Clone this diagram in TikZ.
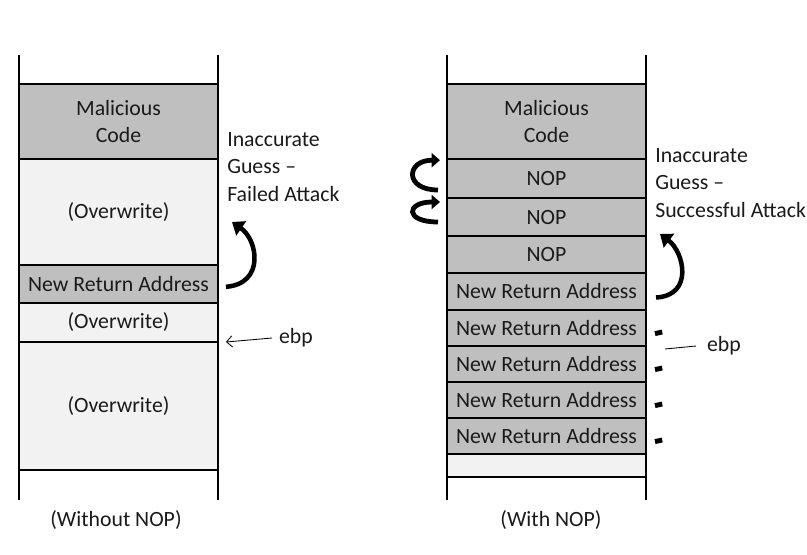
\documentclass[tikz,border=0pt]{standalone}
\usepackage{fontspec}
\setmainfont{Carlito}
\usepackage{xcolor}
\usetikzlibrary{arrows.meta, positioning}

\definecolor{cellgray}{HTML}{BFBFBF}
\definecolor{celllight}{HTML}{F2F2F2}
\definecolor{inkgray}{HTML}{1A1A1A}

\begin{document}
\begin{tikzpicture}[
    every node/.style={font=\fontsize{15.5}{19.5}\selectfont, text=inkgray},
    cell/.style={draw, line width=1.3pt, minimum width=4.975cm, inner sep=0pt, outer sep=0pt, align=center},
    dark/.style={cell, fill=cellgray},
    light/.style={cell, fill=celllight},
    rail/.style={line width=1.1pt},
    swoosh/.style={line width=3.2pt, -{Triangle[length=8pt, width=12pt]}},
    curl/.style={line width=3.4pt, -{Triangle[length=6pt, width=10pt]}}
]
    \useasboundingbox (0,0) rectangle (20.175,-13.85);

    % without NOP
    \node[dark, minimum height=1.875cm, anchor=north] (lmal) at (2.9625,-2.1) {Malicious\\Code};
    \node[light, minimum height=2.65cm, below=0pt of lmal] (lov1) {(Overwrite)};
    \node[dark, minimum height=0.95cm, below=0pt of lov1] (lnra) {New Return Address};
    \node[light, minimum height=0.975cm, below=0pt of lnra] (lov2) {(Overwrite)};
    \node[light, minimum height=3.2cm, below=0pt of lov2] (lov3) {(Overwrite)};
    \draw[rail] ([yshift=0.725cm]lmal.north west) -- ([yshift=-0.75cm]lov3.south west);
    \draw[rail] ([yshift=0.725cm]lmal.north east) -- ([yshift=-0.75cm]lov3.south east);

    \node[anchor=north west, align=left, inner sep=0pt] (lguess) at (5.675,-3.3) {Inaccurate\\Guess --\\Failed Attack};
    \coordinate (lhead) at (5.8,-5.55);
    \draw[swoosh] ([xshift=0.2cm, yshift=-0.07cm]lnra.east)
        .. controls +(0.975,0.075) and +(0.65,-0.45) .. (lhead);

    \node[anchor=west, inner sep=2pt] (lebp) at (6.9,-8.45) {ebp};
    \draw[-{Straight Barb[length=4pt]}, line width=0.6pt] ([xshift=-0.1cm]lebp.west) -- ([xshift=0.2cm]lov3.north east);

    \node at (2.9,-13.0) (lcap) {(Without NOP)};

    % with NOP
    \node[dark, minimum height=1.875cm, anchor=north] (rmal) at (13.6625,-2.1) {Malicious\\Code};
    \node[dark, minimum height=0.975cm, below=0pt of rmal] (rnop1) {NOP};
    \node[dark, minimum height=0.95cm, below=0pt of rnop1] (rnop2) {NOP};
    \node[dark, minimum height=0.925cm, below=0pt of rnop2] (rnop3) {NOP};
    \node[dark, minimum height=0.925cm, below=0pt of rnop3] (rnra1) {New Return Address};
    \foreach \i [evaluate=\i as \j using int(\i-1)] in {2,...,5}
        \node[dark, minimum height=0.9cm, below=0pt of rnra\j] (rnra\i) {New Return Address};
    \node[light, minimum height=0.575cm, below=0pt of rnra5] (rend) {};
    \draw[rail] ([yshift=0.725cm]rmal.north west) -- ([yshift=-0.575cm]rend.south west);
    \draw[rail] ([yshift=0.725cm]rmal.north east) -- ([yshift=-0.575cm]rend.south east);

    \node[anchor=north west, align=left, inner sep=0pt] (rguess) at (16.375,-3.7) {Inaccurate\\Guess --\\Successful Attack};
    \coordinate (rhead) at (16.5,-5.85);
    \draw[swoosh] ([xshift=0.25cm, yshift=-0.15cm]rnra1.east)
        .. controls +(0.95,0.05) and +(0.6,-0.45) .. (rhead);

    \draw[curl] ([xshift=-0.225cm, yshift=0.2cm]rnop1.south west)
        .. controls +(-0.85,0) and +(-0.85,0) .. ([xshift=-0.175cm, yshift=-0.03cm]rnop1.north west);
    \draw[curl] ([xshift=-0.225cm, yshift=0.35cm]rnop2.south west)
        .. controls +(-0.85,0) and +(-0.85,0) .. ([xshift=-0.175cm, yshift=-0.1cm]rnop2.north west);

    \foreach \i in {2,...,5}
        \draw[line width=3.5pt] ([xshift=0.225cm, yshift=-0.14cm]rnra\i.east) -- ++(0.18,0.04);

    \node[anchor=west, inner sep=2pt] (rebp) at (17.6,-8.65) {ebp};
    \draw[line width=0.6pt] ([xshift=-0.2cm]rebp.west) -- ([xshift=0.475cm, yshift=-0.075cm]rnra3.north east);

    \node at (13.775,-13.0) (rcap) {(With NOP)};
\end{tikzpicture}
\end{document}
